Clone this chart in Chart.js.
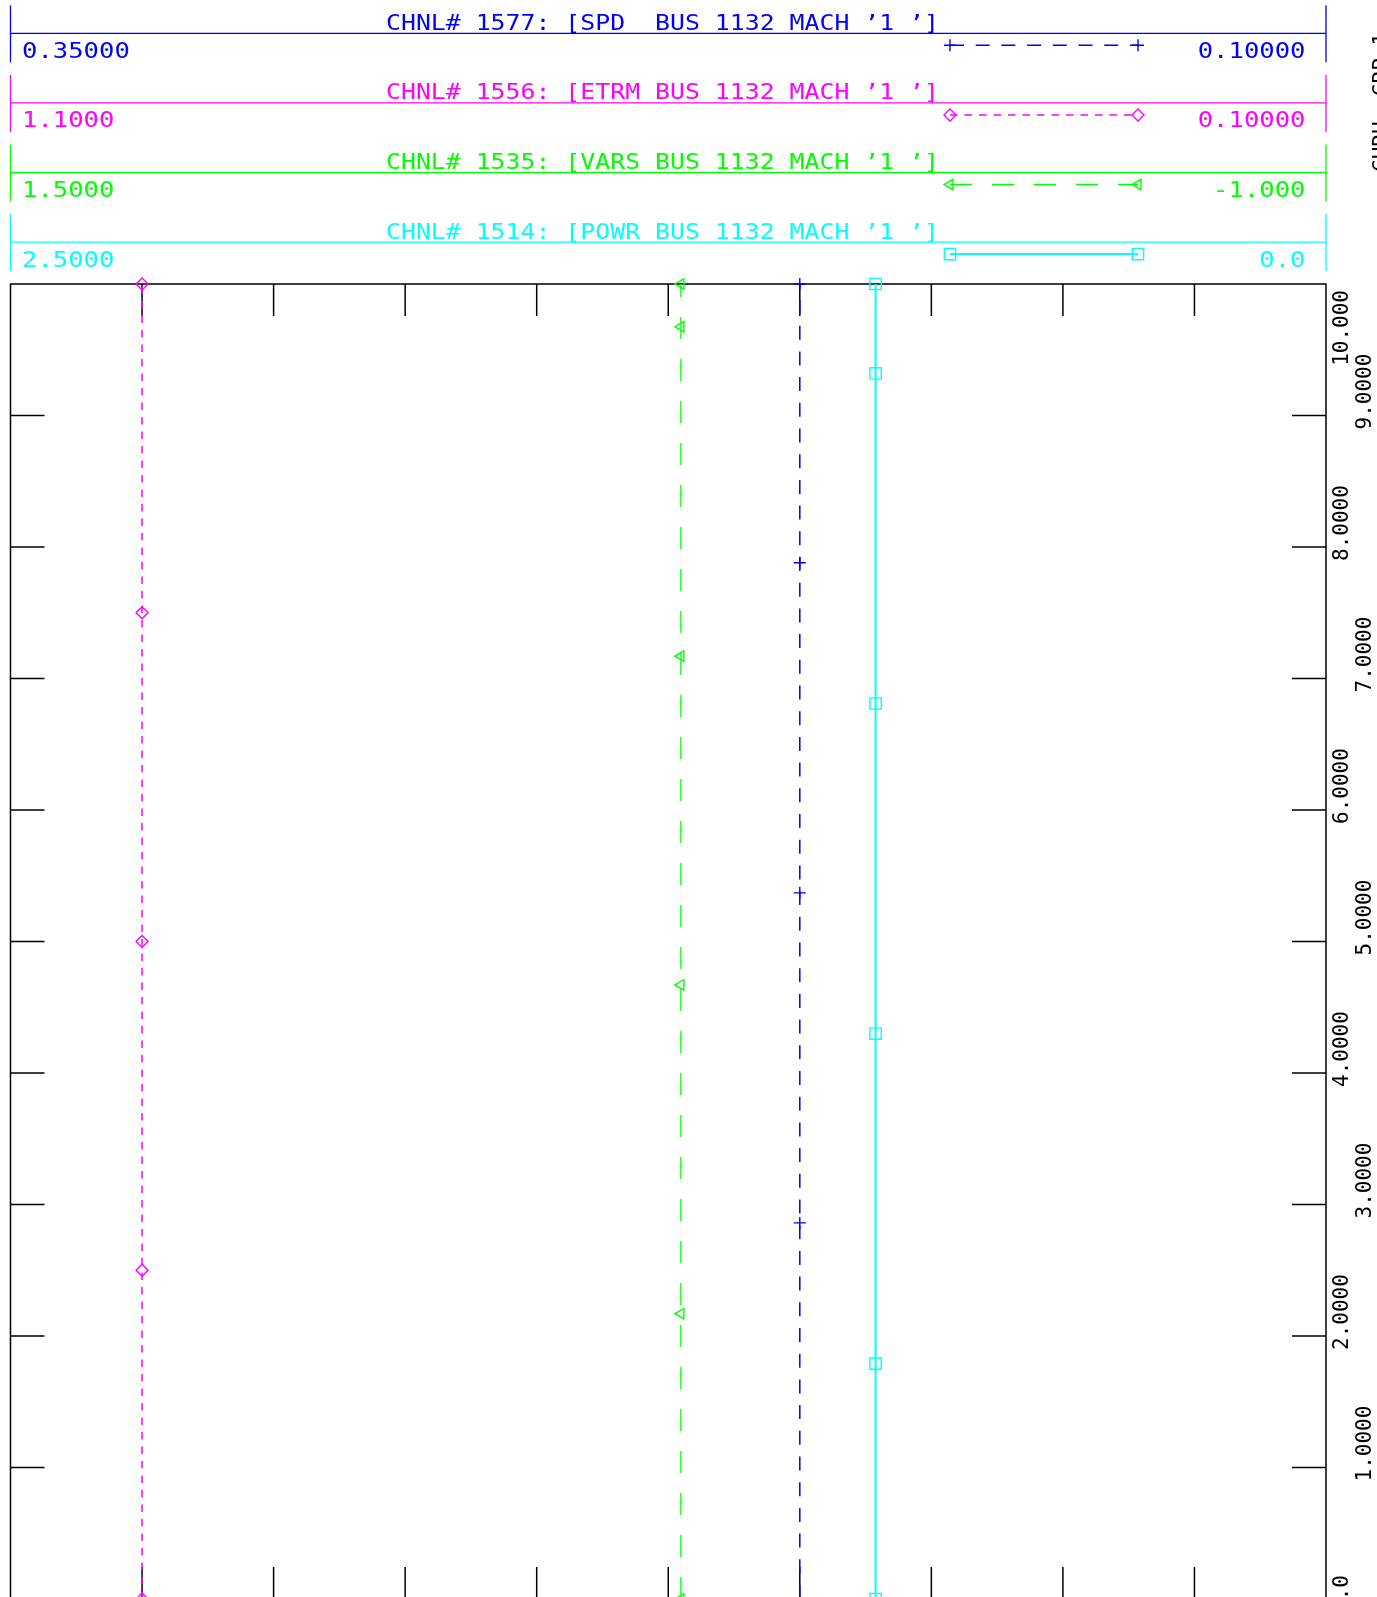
<!DOCTYPE html>
<html>
<head>
<meta charset="utf-8">
<script src="https://cdn.jsdelivr.net/npm/chart.js@4.4.1/dist/chart.umd.min.js"></script>
<style>
html, body { margin: 0; padding: 0; background: #fff; overflow: hidden; }
canvas { display: block; }
</style>
</head>
<body>
<canvas id="plot" width="1377" height="1640"></canvas>
<script>
// channel headers
const chnlTitles = [
    "CHNL# 1577: [SPD  BUS 1132 MACH ’1 ’]",
    "CHNL# 1556: [ETRM BUS 1132 MACH ’1 ’]",
    "CHNL# 1535: [VARS BUS 1132 MACH ’1 ’]",
    "CHNL# 1514: [POWR BUS 1132 MACH ’1 ’]"
];
const chnlColors = ['#0000ff', '#ff00ff', '#00ff00', '#00ffff'];
const chnlMax = [0.35, 1.1, 1.5, 2.5];
const chnlMin = [0.1, 0.1, -1.0, 0.0];
const maxLabels = ['0.35000', '1.1000', '1.5000', '2.5000'];
const minLabels = ['0.10000', '0.10000', '-1.000', '0.0'];

// time axis
const timeTicks = [0, 1, 2, 3, 4, 5, 6, 7, 8, 9, 10];
const timeLabels = ['0.0', '1.0000', '2.0000', '3.0000', '4.0000', '5.0000', '6.0000', '7.0000', '8.0000', '9.0000', '10.000'];

// series (value vs time)
const spdTimes = [0, 2.86, 5.37, 7.88, 10];
const spdValues = [0.2, 0.2, 0.2, 0.2, 0.2];
const spdMarks = [0, 6, 6, 6, 6];

const etrmTimes = [0, 2.5, 5.0, 7.5, 10];
const etrmValues = [1.0, 1.0, 1.0, 1.0, 1.0];

const varsTimes = [0, 2.17, 4.67, 7.17, 9.675, 10];
const varsValues = [0.226, 0.226, 0.226, 0.226, 0.226, 0.226];

const powrTimes = [0, 1.79, 4.30, 6.81, 9.32, 10];
const powrValues = [0.856, 0.856, 0.856, 0.856, 0.856, 0.856];

const lineDashes = [[14, 11.7], [7.5, 7], [22, 20], []];
const lineWidths = [1.5, 1.5, 1.3, 2];
const markStyles = [
    { pointStyle: 'cross', radius: 6, rotation: 0 },
    { pointStyle: 'rectRot', radius: 6, rotation: 0 },
    { pointStyle: 'triangle', radius: 6, rotation: -90 },
    { pointStyle: 'rect', radius: 8, rotation: 0 }
];

function pts(times, values) {
    return times.map((t, i) => ({ x: values[i], y: t }));
}

function series(idx, axis, times, values, radius) {
    return {
        data: pts(times, values),
        xAxisID: axis,
        yAxisID: 'y',
        borderColor: chnlColors[idx],
        borderWidth: lineWidths[idx],
        borderDash: lineDashes[idx],
        backgroundColor: 'rgba(0,0,0,0)',
        pointStyle: markStyles[idx].pointStyle,
        pointRadius: radius,
        pointRotation: markStyles[idx].rotation,
        pointBorderColor: chnlColors[idx],
        pointBorderWidth: 1.4,
        pointBackgroundColor: 'rgba(0,0,0,0)',
        tension: 0,
        clip: false
    };
}

const monoFont = '"DejaVu Sans Mono", "Liberation Mono", monospace';

// wide plotter lettering: draw text stretched horizontally
function wideText(ctx, text, x, y, sx, alignRight) {
    const w = ctx.measureText(text).width * sx;
    ctx.save();
    ctx.translate(alignRight ? x - w : x, y);
    ctx.scale(sx, 1);
    ctx.textAlign = 'left';
    ctx.fillText(text, 0, 0);
    ctx.restore();
}

const framePlugin = {
    id: 'framePlugin',
    beforeDatasetsDraw(chart) {
        const { ctx, chartArea: a, scales } = chart;
        ctx.save();
        ctx.strokeStyle = '#000';
        ctx.lineWidth = 1.5;
        ctx.strokeRect(a.left, a.top, a.right - a.left, a.bottom - a.top);
        ctx.beginPath();
        for (let i = 1; i < 10; i++) {
            const x = scales.xg.getPixelForValue(i);
            ctx.moveTo(x, a.top); ctx.lineTo(x, a.top + 32);
            ctx.moveTo(x, a.bottom); ctx.lineTo(x, a.bottom - 32);
            const y = scales.y.getPixelForValue(timeTicks[i]);
            ctx.moveTo(a.left, y); ctx.lineTo(a.left + 34, y);
            ctx.moveTo(a.right, y); ctx.lineTo(a.right - 34, y);
        }
        ctx.stroke();
        ctx.restore();
    },
    afterDraw(chart) {
        const { ctx, chartArea: a, scales } = chart;
        ctx.save();
        ctx.textBaseline = 'alphabetic';

        // channel header rows
        for (let i = 0; i < 4; i++) {
            const hy = 33.3 + 69.6 * i;
            const col = chnlColors[i];
            ctx.strokeStyle = col;
            ctx.fillStyle = col;
            ctx.lineWidth = 1.3;
            ctx.setLineDash([]);
            ctx.beginPath();
            ctx.moveTo(a.left, hy - 28); ctx.lineTo(a.left, hy + 29);
            ctx.moveTo(a.right, hy - 28); ctx.lineTo(a.right, hy + 29);
            ctx.moveTo(a.left, hy); ctx.lineTo(a.right, hy);
            ctx.stroke();

            ctx.font = '20.5px ' + monoFont;
            wideText(ctx, chnlTitles[i], 386, hy - 3.5, 1.211, false);

            ctx.font = '22px ' + monoFont;
            wideText(ctx, maxLabels[i], 22, hy + 24.5, 1.163, false);
            wideText(ctx, minLabels[i], 1305.5, hy + 24.5, 1.163, true);

            // line sample
            const sy = hy + 12;
            ctx.lineWidth = lineWidths[i];
            ctx.setLineDash(lineDashes[i]);
            ctx.beginPath();
            ctx.moveTo(950, sy); ctx.lineTo(1138, sy);
            ctx.stroke();
            ctx.setLineDash([]);
            ctx.lineWidth = 1.4;
            ctx.fillStyle = 'rgba(0,0,0,0)';
            const ps = { pointStyle: markStyles[i].pointStyle, radius: markStyles[i].radius, rotation: markStyles[i].rotation, borderWidth: 1.4 };
            Chart.helpers.drawPoint(ctx, ps, 950, sy);
            Chart.helpers.drawPoint(ctx, ps, 1138, sy);
        }

        // time labels, rotated, on the right
        ctx.fillStyle = '#000';
        ctx.font = '21px ' + monoFont;
        ctx.textAlign = 'left';
        timeTicks.forEach((t, i) => {
            const y = scales.y.getPixelForValue(t);
            const w = ctx.measureText(timeLabels[i]).width;
            let start = y + 14;
            if (start - w < a.top + 6) start = a.top + 6 + w;
            const bx = (i % 2 === 0) ? 1348 : 1371;
            ctx.save();
            ctx.translate(bx, start);
            ctx.rotate(-Math.PI / 2);
            ctx.fillText(timeLabels[i], 0, 0);
            ctx.restore();
        });

        // clipped caption at far right edge
        ctx.save();
        ctx.translate(1388, 172);
        ctx.rotate(-Math.PI / 2);
        ctx.fillText('CHRH  CRP 1', 0, 0);
        ctx.restore();

        ctx.restore();
    }
};

new Chart(document.getElementById('plot'), {
    type: 'line',
    data: {
        datasets: [
            series(1, 'xEtrm', etrmTimes, etrmValues, 6),
            series(2, 'xVars', varsTimes, varsValues, 6),
            series(0, 'xSpd', spdTimes, spdValues, spdMarks),
            series(3, 'xPowr', powrTimes, powrValues, 8)
        ]
    },
    options: {
        responsive: false,
        animation: false,
        events: [],
        layout: { padding: { left: 10.5, right: 51, top: 284, bottom: 41 } },
        plugins: { legend: { display: false }, tooltip: { enabled: false } },
        scales: {
            xSpd: { type: 'linear', min: chnlMin[0], max: chnlMax[0], reverse: true, display: false },
            xEtrm: { type: 'linear', min: chnlMin[1], max: chnlMax[1], reverse: true, display: false },
            xVars: { type: 'linear', min: chnlMin[2], max: chnlMax[2], reverse: true, display: false },
            xPowr: { type: 'linear', min: chnlMin[3], max: chnlMax[3], reverse: true, display: false },
            xg: { type: 'linear', axis: 'x', min: 0, max: 10, display: false },
            y: { type: 'linear', min: 0, max: 10, display: false }
        }
    },
    plugins: [framePlugin]
});
</script>
</body>
</html>
